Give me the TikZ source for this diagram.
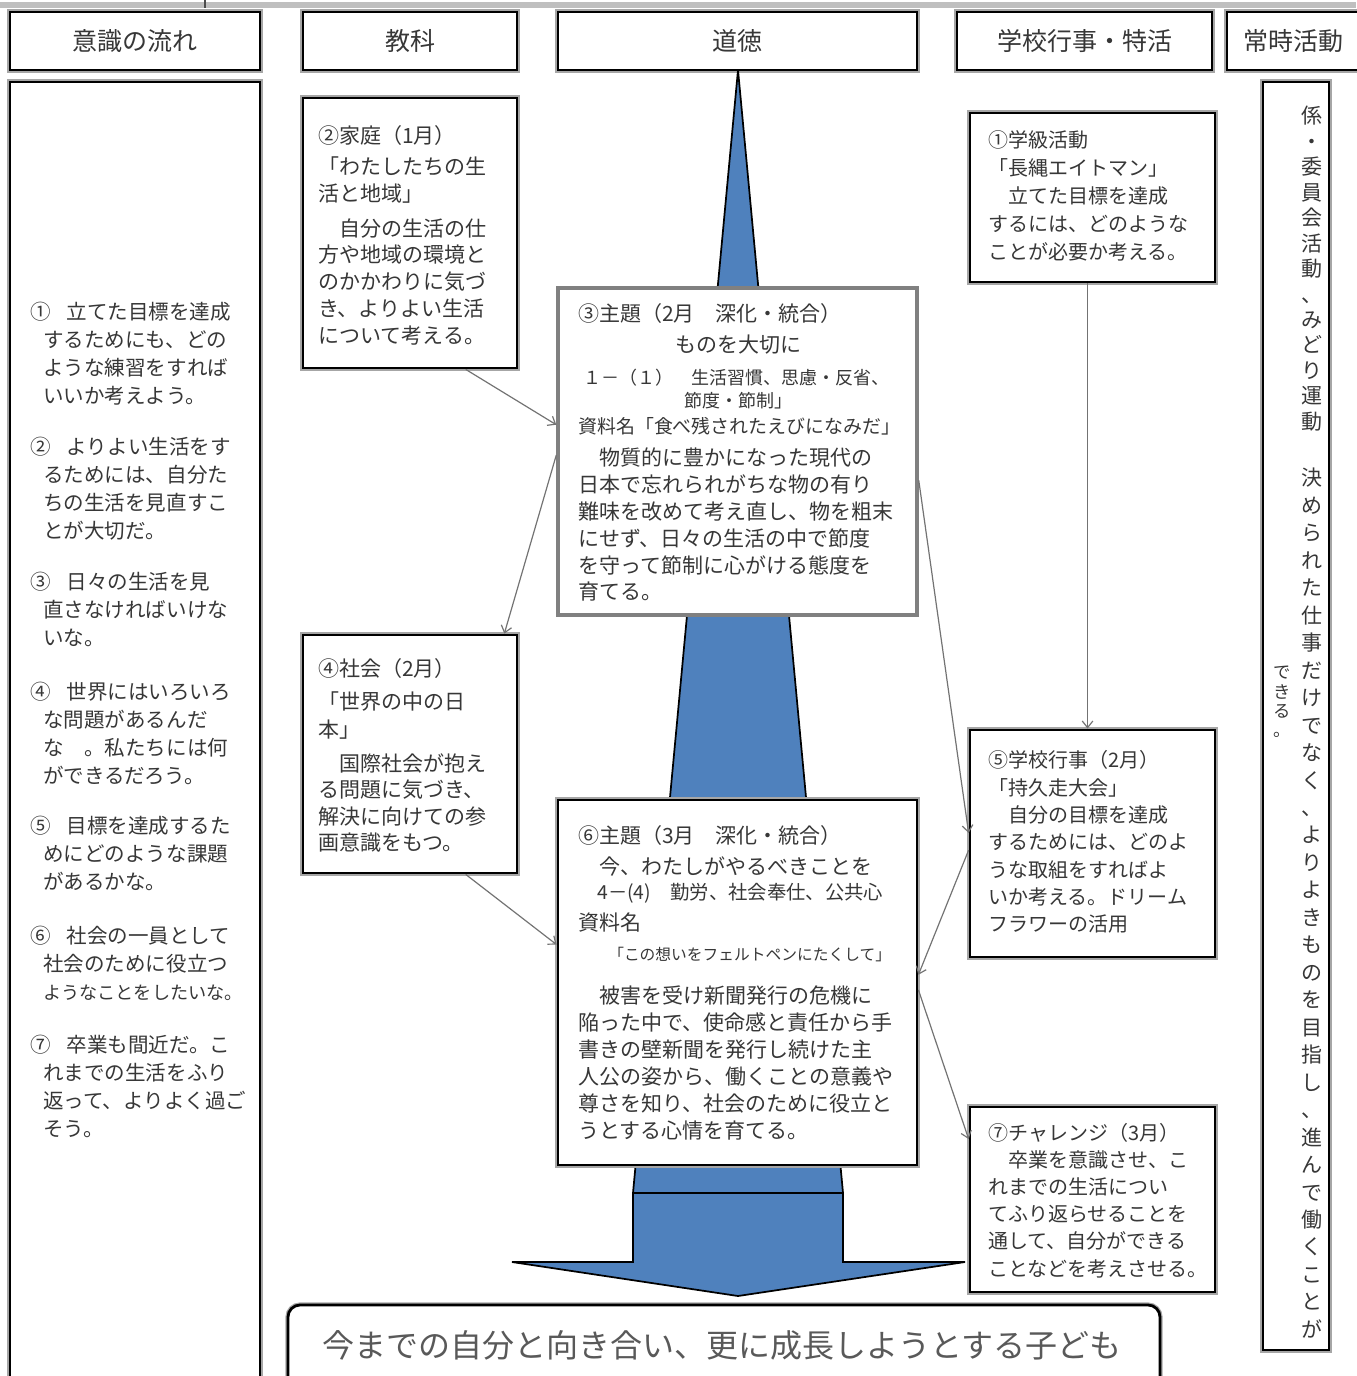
\documentclass[tikz,border=0pt]{standalone}
\usepackage{fontspec}
\setmainfont{Noto Sans CJK JP}
\usetikzlibrary{arrows.meta,fit,calc}
\definecolor{spine}{RGB}{79,129,189}
\definecolor{ink}{RGB}{55,55,55}
\newcommand\hind{\hspace*{9.75pt}}
\begin{document}
\begin{tikzpicture}[x=0.75pt,y=-0.75pt,
  frame/.style={draw=black,line width=2.1pt,fill=white,inner sep=0pt,preaction={draw=black!35,line width=3.9pt}},
  gframe/.style={draw=black!50,line width=2.6pt,fill=white,inner sep=0pt},
  hdrtxt/.style={text=ink,inner sep=0pt,font=\fontsize{18.75pt}{20pt}\selectfont},
  txt/.style={text=ink,inner sep=0pt,align=left,anchor=north west},
  ln/.style={text=ink,inner sep=0pt,anchor=west},
  conn/.style={draw=black!55,line width=0.9pt,-{Straight Barb[length=5pt,width=8pt]}},
  vt/.style={text=ink,inner sep=0pt,align=center,anchor=north}]
\useasboundingbox (0,0) rectangle (1356,1376);
% top band
\fill[black!25] (0,2) rectangle (1356,8);
\draw[black!70,line width=0.8pt] (205,0) -- (205,8);
% headers
\node[frame,fit={(10,12) (260,70)}] (h1) {};
\node[frame,fit={(303,12) (517,70)}] (h2) {};
\node[frame,fit={(558,12) (917,70)}] (h3) {};
\node[frame,fit={(957,12) (1212,70)}] (h4) {};
\node[frame,fit={(1227,12) (1360,70)}] (h5) {};
\node[hdrtxt] (h1t) at (h1.center) {意識の流れ};
\node[hdrtxt] (h2t) at (h2.center) {教科};
\node[hdrtxt] (h3t) at (h3.center) {道徳};
\node[hdrtxt] (h4t) at (h4.center) {学校行事・特活};
\node[hdrtxt] (h5t) at (h5.center) {常時活動};
% blue spine
\filldraw[fill=spine,draw=black,line width=1.3pt] (738,70) -- (843,1193) -- (633,1193) -- cycle;
\filldraw[fill=spine,draw=black,line width=1.3pt] (633,1193) -- (843,1193) -- (843,1262) -- (965,1262) -- (738,1296) -- (512,1262) -- (633,1262) -- cycle;
% columns
\node[frame,fit={(10,82) (260,1420)}] (col1) {};
\node[frame,fit={(1263,82) (1329,1350)}] (col5) {};
% boxes
\node[frame,fit={(303,98) (517,368)}] (b2) {};
\node[gframe,fit={(558,288) (917,615)}] (b3) {};
\node[frame,fit={(303,635) (517,873)}] (b4) {};
\node[frame,fit={(558,800) (917,1165)}] (b6) {};
\node[frame,fit={(970,113) (1215,282)}] (b1) {};
\node[frame,fit={(970,730) (1215,957)}] (b5) {};
\node[frame,fit={(970,1107) (1215,1292)}] (b7) {};
\node[frame,rounded corners=9pt,fit={(288,1305) (1160,1420)}] (goal) {};
% connectors
\draw[conn] ($(b2.south west)!0.757!(b2.south east)$) -- ($(b3.north west)!0.419!(b3.south west)$);
\draw[conn] ($(b3.north west)!0.511!(b3.south west)$) -- ($(b4.north west)!0.935!(b4.north east)$);
\draw[conn] ($(b4.south west)!0.757!(b4.south east)$) -- ($(b6.north west)!0.397!(b6.south west)$);
\draw[conn] ($(b3.north east)!0.587!(b3.south east)$) -- ($(b5.north west)!0.454!(b5.south west)$);
\draw[conn] ($(b1.south west)!0.48!(b1.south east)$) -- ($(b5.north west)!0.48!(b5.north east)$);
\draw[conn] ($(b5.north west)!0.529!(b5.south west)$) -- ($(b6.north east)!0.479!(b6.south east)$);
\draw[conn] ($(b6.north east)!0.52!(b6.south east)$) -- ($(b7.north west)!0.178!(b7.south west)$);
% left column text
\begin{scope}[every node/.append style={font=\fontsize{15.4pt}{20.85pt}\selectfont}]
\node[txt] (m1) at (30,302) {①\hspace{12pt}立てた目標を達成\\\hind するためにも、どの\\\hind ような練習をすれば\\\hind いいか考えよう。};
\node[txt] (m2) at (30,437) {②\hspace{12pt}よりよい生活をす\\\hind るためには、自分た\\\hind ちの生活を見直すこ\\\hind とが大切だ。};
\node[txt] (m3) at (30,572) {③\hspace{12pt}日々の生活を見\\\hind 直さなければいけな\\\hind いな。};
\node[txt] (m4) at (30,682) {④\hspace{12pt}世界にはいろいろ\\\hind な問題があるんだ\\\hind な　。私たちには何\\\hind ができるだろう。};
\node[txt] (m5) at (30,816) {⑤\hspace{12pt}目標を達成するた\\\hind めにどのような課題\\\hind があるかな。};
\node[txt] (m6) at (30,926) {⑥\hspace{12pt}社会の一員として\\\hind 社会のために役立つ\\\hind {\fontsize{13.6pt}{20.85pt}\selectfont ようなことをしたいな。}};
\node[txt] (m7) at (30,1035) {⑦\hspace{12pt}卒業も間近だ。こ\\\hind れまでの生活をふり\\\hind 返って、よりよく過ご\\\hind そう。};
\end{scope}
% box 2
\node[txt,font=\fontsize{15.75pt}{20.1pt}\selectfont] (t2) at (318,125) {②家庭（1月）\\[3.2pt]「わたしたちの生\\活と地域」\\[6.2pt]　自分の生活の仕\\方や地域の環境と\\のかかわりに気づ\\き、よりよい生活\\について考える。};
% box 3
\node[ln,font=\fontsize{15.75pt}{20pt}\selectfont] (t3a) at (578,314) {③主題（2月　深化・統合）};
\node[text=ink,inner sep=0pt,font=\fontsize{15.75pt}{20pt}\selectfont] (t3b) at (738,345) {ものを大切に};
\node[ln,font=\fontsize{13.5pt}{16pt}\selectfont] (t3c) at (583,378) {１－（１）　生活習慣、思慮・反省、};
\node[text=ink,inner sep=0pt,font=\fontsize{13.5pt}{16pt}\selectfont] (t3d) at (738,401) {節度・節制」};
\node[ln,font=\fontsize{14.2pt}{16pt}\selectfont] (t3e) at (578,426) {資料名「食べ残されたえびになみだ」};
\node[txt,font=\fontsize{15.75pt}{20.1pt}\selectfont] (t3f) at (578,448) {　物質的に豊かになった現代の\\日本で忘れられがちな物の有り\\難味を改めて考え直し、物を粗末\\にせず、日々の生活の中で節度\\を守って節制に心がける態度を\\育てる。};
% box 4
\node[txt,font=\fontsize{15.75pt}{19.9pt}\selectfont] (t4) at (318,658) {④社会（2月）\\[4.9pt]「世界の中の日\\[1.1pt]本」\\[5.6pt]　国際社会が抱え\\る問題に気づき、\\解決に向けての参\\画意識をもつ。};
% box 6
\node[ln,font=\fontsize{15.75pt}{20pt}\selectfont] (t6a) at (578,836) {⑥主題（3月　深化・統合）};
\node[ln,font=\fontsize{15.75pt}{20pt}\selectfont] (t6b) at (578,866) {　今、わたしがやるべきことを};
\node[ln,font=\fontsize{14.5pt}{18pt}\selectfont] (t6c) at (597,893) {4－(4)　勤労、社会奉仕、公共心};
\node[ln,font=\fontsize{15.75pt}{20pt}\selectfont] (t6d) at (578,923) {資料名};
\node[ln,font=\fontsize{11.8pt}{16pt}\selectfont] (t6e) at (608,955) {「この想いをフェルトペンにたくして」};
\node[txt,font=\fontsize{15.75pt}{20.25pt}\selectfont] (t6f) at (578,985) {　被害を受け新聞発行の危機に\\陥った中で、使命感と責任から手\\書きの壁新聞を発行し続けた主\\人公の姿から、働くことの意義や\\尊さを知り、社会のために役立と\\うとする心情を育てる。};
% right boxes
\node[txt,font=\fontsize{15pt}{21pt}\selectfont] (t1) at (988,130.6) {①学級活動\\「長縄エイトマン」\\　立てた目標を達成\\するには、どのような\\ことが必要か考える。};
\node[txt,font=\fontsize{15pt}{20.5pt}\selectfont] (t5) at (988,750.6) {⑤学校行事（2月）\\「持久走大会」\\　自分の目標を達成\\するためには、どのよ\\うな取組をすればよ\\いか考える。ドリーム\\フラワーの活用};
\node[txt,font=\fontsize{15pt}{20.4pt}\selectfont] (t7) at (988,1122.6) {⑦チャレンジ（3月）\\　卒業を意識させ、こ\\れまでの生活につい\\てふり返らせることを\\通して、自分ができる\\ことなどを考えさせる。};
% vertical text
\node[vt,font=\fontsize{15.75pt}{19.1pt}\selectfont] (v1) at (1312,106) {係\\・\\委\\員\\会\\活\\動\\、\\み\\ど\\り\\運\\動};
\node[vt,font=\fontsize{15.75pt}{20.6pt}\selectfont] (v2) at (1312,468) {決\\め\\ら\\れ\\た\\仕\\事\\だ\\け\\で\\な\\く\\、\\よ\\り\\よ\\き\\も\\の\\を\\目\\指\\し\\、\\進\\ん\\で\\働\\く\\こ\\と\\が};
\node[vt,font=\fontsize{13pt}{14.5pt}\selectfont] (v3) at (1282,666) {で\\き\\る\\。};
% goal text
\node[text=black!65,inner sep=0pt,font=\fontsize{24pt}{26pt}\selectfont] (g) at (722,1345) {今までの自分と向き合い、更に成長しようとする子ども};
\end{tikzpicture}
\end{document}
